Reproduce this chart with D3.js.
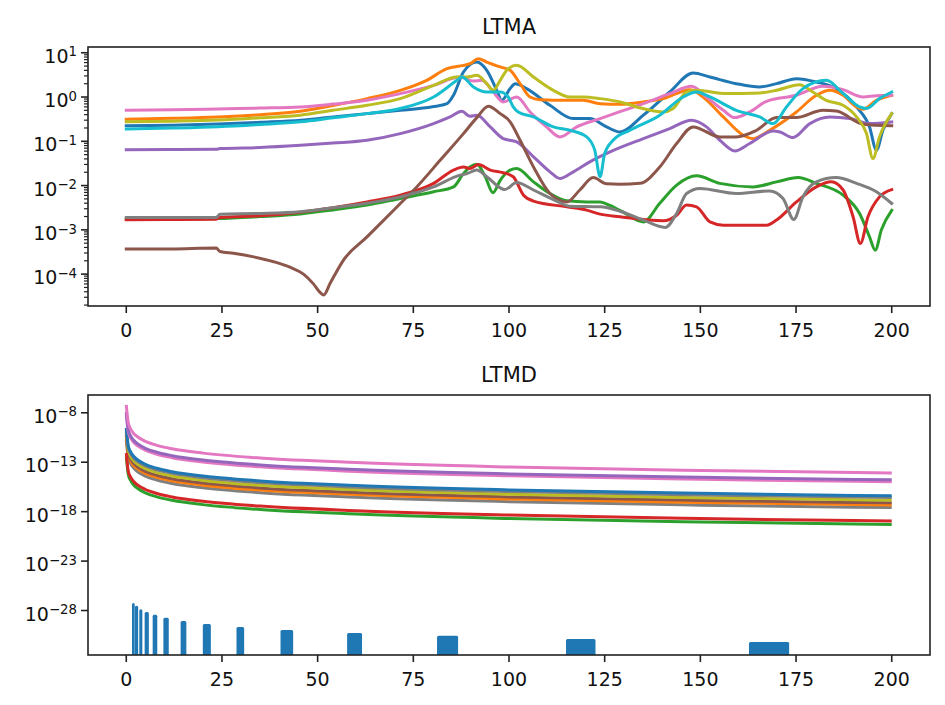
<!DOCTYPE html>
<html>
<head>
<meta charset="utf-8">
<script src="https://d3js.org/d3.v7.min.js"></script>
<style>
  body { margin: 0; background: #fff; }
  svg { font-family: "DejaVu Sans", sans-serif; }
</style>
</head>
<body>
<div class="chart"></div>
<script>
// ---- LTMA data: [x, log10(value)] ----
const ltmaBlue = [[0,-0.65],[12,-0.635],[24,-0.61],[35,-0.57],[45.5,-0.525],[54,-0.45],[62.9,-0.375],[71.6,-0.30],[80,-0.22],[83.8,-0.15],[85.5,0.04],[88.1,0.565],[91.6,0.79],[94.2,0.60],[96.8,0.152],[98.1,-0.074],[100.3,0.19],[101.6,0.30],[104.6,0.19],[110.7,-0.187],[116.8,-0.487],[121.1,-0.487],[125.5,-0.675],[129,-0.79],[135.1,-0.41],[142,0.114],[148.1,0.543],[152.5,0.452],[159.4,0.302],[165.5,0.227],[169.9,0.302],[175.1,0.415],[180.3,0.34],[185.5,0.19],[190.8,-0.224],[194.2,-0.675],[196,-1.2],[197.7,-0.75],[200,-0.375]];
const ltmaOrange = [[0,-0.5],[12,-0.48],[24,-0.45],[35,-0.40],[45.5,-0.32],[54,-0.19],[62.9,-0.036],[71.6,0.15],[78.5,0.377],[83.8,0.64],[88.1,0.715],[89.8,0.753],[92,0.866],[94.2,0.79],[97.7,0.68],[100.3,0.603],[102.9,0.302],[105.5,0.001],[108.1,-0.059],[115.1,-0.074],[119.4,-0.074],[123.8,-0.15],[129,-0.164],[135.1,-0.11],[140.3,-0.036],[147.3,0.167],[150.7,0.001],[156,-0.45],[161.2,-0.863],[163.8,-0.94],[168.1,-0.75],[175.1,-0.337],[180.3,0.04],[183.8,0.152],[187.3,0.04],[190.8,-0.224],[192.5,-0.277],[196,-0.074],[200,0.04]];
const ltmaGreen = [[0,-2.76],[12,-2.755],[24,-2.745],[35,-2.70],[45.5,-2.64],[54,-2.55],[62.9,-2.442],[71.6,-2.29],[80.3,-2.14],[85.5,-2.03],[88.1,-1.73],[89.8,-1.58],[91.6,-1.52],[93.8,-1.8],[95.8,-2.16],[97.7,-1.88],[100.3,-1.65],[102,-1.615],[106.4,-1.916],[110.7,-2.18],[115.1,-2.345],[120.3,-2.37],[123.8,-2.37],[126.4,-2.45],[129,-2.56],[135.1,-2.82],[139.4,-2.4],[143.8,-1.99],[149,-1.78],[155.1,-1.95],[163.8,-2.03],[169.9,-1.916],[175.5,-1.82],[180.3,-1.95],[187.3,-2.217],[191.6,-2.63],[194.2,-3.157],[195.7,-3.46],[197.3,-3.0],[200,-2.56]];
const ltmaRed = [[0,-2.77],[12,-2.765],[23.5,-2.76],[24.5,-2.72],[35,-2.68],[45.5,-2.6],[54,-2.5],[62.9,-2.37],[71.6,-2.217],[80.3,-1.95],[85.5,-1.65],[88.1,-1.58],[89.8,-1.615],[92,-1.525],[95.1,-1.65],[98.5,-1.71],[101.1,-1.8],[103.8,-2.217],[106.4,-2.35],[115.1,-2.48],[120.3,-2.555],[123.8,-2.645],[129,-2.705],[140.3,-2.795],[143.8,-2.67],[146.4,-2.44],[149,-2.48],[152.5,-2.82],[156,-2.895],[167.3,-2.895],[169.9,-2.78],[175.1,-2.37],[180.3,-2.03],[184.2,-1.916],[187.3,-2.1],[189.9,-2.705],[191.8,-3.307],[193.8,-2.705],[196.8,-2.255],[200,-2.09]];
const ltmaPurple = [[0,-1.19],[12,-1.185],[23.5,-1.18],[24.5,-1.165],[35,-1.14],[45.5,-1.09],[54,-1.04],[62.9,-0.976],[71.6,-0.826],[80.3,-0.6],[84.6,-0.45],[87.7,-0.322],[89.8,-0.435],[91.6,-0.412],[95.1,-0.675],[98.5,-0.94],[102,-1.014],[106.4,-1.35],[110.7,-1.69],[113.3,-1.84],[116.8,-1.69],[121.1,-1.465],[126.4,-1.24],[135.1,-0.94],[142,-0.713],[147.7,-0.525],[151.6,-0.675],[155.1,-0.976],[159,-1.217],[162.9,-1.05],[169,-0.766],[170.8,-0.79],[174.2,-0.916],[178.6,-0.6],[183.8,-0.45],[189,-0.487],[194.2,-0.6],[200,-0.562]];
const ltmaBrown = [[0,-3.435],[12,-3.43],[23.5,-3.41],[24.5,-3.49],[28,-3.53],[33.3,-3.61],[38.5,-3.72],[42.9,-3.85],[46.3,-4.0],[48.9,-4.22],[50.5,-4.4],[51.6,-4.47],[53.3,-4.2],[54.2,-4.06],[56.8,-3.68],[62.9,-3.16],[71.6,-2.405],[75.9,-2.03],[82,-1.43],[88.1,-0.826],[91.6,-0.465],[94.6,-0.21],[97.7,-0.375],[100.3,-0.56],[102.9,-0.976],[106.4,-1.58],[110.7,-2.18],[115.1,-2.37],[118.5,-2.10],[122,-1.82],[125.5,-1.96],[129,-1.97],[134.2,-1.95],[139.4,-1.58],[143.8,-1.05],[148.1,-0.675],[155.1,-0.90],[159.4,-0.90],[164.7,-0.75],[169.9,-0.465],[175.1,-0.465],[182,-0.30],[185.5,-0.315],[192.5,-0.615],[200,-0.65]];
const ltmaPink = [[0,-0.30],[12,-0.29],[24,-0.27],[35,-0.25],[45.5,-0.225],[54,-0.16],[62.9,-0.074],[71.6,0.077],[80.3,0.264],[87.2,0.452],[90.7,0.362],[92.9,0.377],[95.9,0.114],[98.5,-0.11],[102,0.001],[105.5,-0.337],[109.8,-0.675],[113.3,-0.9],[117.7,-0.675],[123.8,-0.487],[129,-0.33],[135.1,-0.149],[142,0.077],[147.7,0.242],[151.6,0.001],[156,-0.30],[159,-0.465],[162.9,-0.337],[167.3,-0.096],[175.1,0.04],[182,0.242],[187.3,0.167],[192.5,0.001],[196,0.031],[200,0.04]];
const ltmaGray = [[0,-2.72],[12,-2.72],[23.5,-2.72],[24.5,-2.645],[35,-2.63],[45.5,-2.59],[54,-2.5],[62.9,-2.4],[71.6,-2.255],[80.3,-2.03],[87.2,-1.765],[89,-1.73],[91.6,-1.65],[94.2,-1.8],[98.9,-2.09],[102,-1.93],[106.4,-2.1],[111.6,-2.315],[115.9,-2.465],[123.8,-2.48],[129,-2.58],[135.1,-2.78],[140.8,-2.946],[143.8,-2.63],[146.4,-2.18],[149.9,-2.067],[159.4,-2.18],[168.1,-2.12],[171.6,-2.29],[174.4,-2.765],[176.8,-2.255],[180.3,-1.916],[185.5,-1.82],[190.8,-1.95],[196,-2.14],[200,-2.405]];
const ltmaOlive = [[0,-0.56],[12,-0.545],[24,-0.52],[35,-0.47],[45.5,-0.41],[54,-0.3],[62.9,-0.187],[71.6,-0.036],[80.3,0.264],[86.4,0.452],[89,0.452],[91.6,0.49],[94.2,0.302],[95.9,0.152],[97.7,0.377],[99.4,0.603],[102,0.716],[106.4,0.452],[111.6,0.152],[115.9,0.001],[119.4,0.001],[123.8,-0.036],[129,-0.11],[133.4,-0.224],[140.3,-0.337],[142.9,-0.26],[146.4,0.114],[149,0.152],[156.8,0.077],[165.5,0.092],[169.9,0.152],[175.9,0.28],[179.4,0.114],[182.9,-0.074],[187.3,-0.187],[190.8,-0.45],[193.4,-0.825],[195.1,-1.39],[196.8,-0.9],[200,-0.375]];
const ltmaCyan = [[0,-0.72],[12,-0.70],[24,-0.67],[35,-0.62],[45.5,-0.56],[54,-0.47],[62.9,-0.375],[71.6,-0.26],[80.3,0.001],[86.4,0.377],[87.7,0.452],[90.7,0.227],[94.2,0.114],[97.7,0.114],[99.8,0.001],[101.1,-0.224],[102.4,-0.337],[106.4,-0.45],[111.6,-0.675],[115.9,-0.75],[120.3,-0.9],[122.4,-1.2],[123.8,-1.8],[125,-1.277],[127.2,-0.976],[131.6,-0.75],[139.4,-0.41],[145.5,0.001],[149,0.114],[152.5,0.001],[159.4,-0.30],[165.5,-0.45],[169,-0.6],[172.5,-0.224],[176.8,0.19],[182.9,0.377],[187.3,0.077],[191.6,-0.224],[193.4,-0.26],[196.8,-0.036],[200,0.114]];

// ---- LTMD data: shared x grid, log10(value) per series ----
const ltmdX = [0, 0.5, 1, 2, 3, 5, 8, 12, 20, 35, 60, 100, 150, 200];
const ltmdPinkTop = [-7.2, -8.99, -9.54, -10.11, -10.45, -10.89, -11.29, -11.64, -12.08, -12.57, -13.03, -13.48, -13.83, -14.08];
const ltmdPink2   = [-8.1, -9.89, -10.44, -11.01, -11.35, -11.79, -12.19, -12.54, -12.98, -13.47, -13.93, -14.38, -14.73, -14.98];
const ltmdPurple  = [-7.9, -9.69, -10.24, -10.81, -11.15, -11.59, -11.99, -12.34, -12.78, -13.27, -13.73, -14.18, -14.53, -14.78];
const ltmdBlue    = [-9.52, -11.31, -11.86, -12.43, -12.77, -13.21, -13.61, -13.96, -14.4, -14.89, -15.35, -15.8, -16.15, -16.4];
const ltmdGray    = [-9.69, -11.48, -12.03, -12.6, -12.94, -13.38, -13.78, -14.13, -14.57, -15.06, -15.52, -15.97, -16.32, -16.57];
const ltmdOlive   = [-9.96, -11.75, -12.3, -12.87, -13.21, -13.65, -14.05, -14.4, -14.84, -15.33, -15.79, -16.24, -16.59, -16.84];
const ltmdBrown   = [-10.23, -12.02, -12.57, -13.14, -13.48, -13.92, -14.32, -14.67, -15.11, -15.6, -16.06, -16.51, -16.86, -17.11];
const ltmdOrange  = [-10.44, -12.23, -12.78, -13.35, -13.69, -14.13, -14.53, -14.88, -15.32, -15.81, -16.27, -16.72, -17.07, -17.32];
const ltmdGray2   = [-10.71, -12.5, -13.05, -13.62, -13.96, -14.4, -14.8, -15.15, -15.59, -16.08, -16.54, -16.99, -17.34, -17.59];
const ltmdRed     = [-12.07, -13.86, -14.41, -14.98, -15.32, -15.76, -16.16, -16.51, -16.95, -17.44, -17.9, -18.35, -18.7, -18.95];
const ltmdGreen   = [-12.41, -14.2, -14.75, -15.32, -15.66, -16.1, -16.5, -16.85, -17.29, -17.78, -18.24, -18.69, -19.04, -19.29];
// blue blocks near the bottom: [x start, x end, log10(value)]
const ltmdBlocks = [[1.5,2.2,-27.25],[2.25,3.1,-27.52],[3.4,4.2,-27.86],[4.8,5.9,-28.16],[6.9,8.1,-28.44],[9.7,11.1,-28.74],[14.2,15.7,-29.05],[20.0,22.1,-29.36],[28.8,30.8,-29.66],[40.3,43.6,-29.97],[57.7,61.6,-30.28],[81.2,86.7,-30.55],[114.9,122.6,-30.89],[162.7,173.2,-31.19]];

const xTicks = [0, 25, 50, 75, 100, 125, 150, 175, 200];
const ltmaYTicks = [-4, -3, -2, -1, 0, 1];
const ltmdYTicks = [-28, -23, -18, -13, -8];

const C = {blue:'#1f77b4', orange:'#ff7f0e', green:'#2ca02c', red:'#d62728', purple:'#9467bd',
           brown:'#8c564b', pink:'#e377c2', gray:'#7f7f7f', olive:'#bcbd22', cyan:'#17becf'};

const width = 945, height = 705;
const svg = d3.select('.chart').append('svg').attr('width', width).attr('height', height);

const left = 88, right = 930;
const x = d3.scaleLinear().domain([-10, 210]).range([left, right]);

function panel(top, bottom, domain, title, yTicks, minor) {
  const y = d3.scaleLog().domain(domain).range([bottom, top]);
  const g = svg.append('g');
  const id = 'clip' + title;
  svg.append('clipPath').attr('id', id).append('rect')
    .attr('x', left).attr('y', top).attr('width', right - left).attr('height', bottom - top);
  const plot = g.append('g').attr('clip-path', 'url(#' + id + ')');

  // frame
  g.append('rect').attr('x', left).attr('y', top).attr('width', right - left).attr('height', bottom - top)
    .attr('fill', 'none').attr('stroke', '#222').attr('stroke-width', 1.6);

  // x ticks
  xTicks.forEach(t => {
    g.append('line').attr('x1', x(t)).attr('x2', x(t)).attr('y1', bottom).attr('y2', bottom + 7)
      .attr('stroke', '#222').attr('stroke-width', 1.6);
    g.append('text').attr('x', x(t)).attr('y', bottom + 30.5).attr('text-anchor', 'middle')
      .attr('font-size', 19).attr('fill', '#111').text(t);
  });

  // minor y ticks
  if (minor) {
    for (let k = -6; k <= 1; k++) {
      for (let m = 2; m <= 9; m++) {
        const v = m * Math.pow(10, k);
        if (v < domain[0] || v > domain[1]) continue;
        g.append('line').attr('x1', left - 4).attr('x2', left).attr('y1', y(v)).attr('y2', y(v))
          .attr('stroke', '#222').attr('stroke-width', 1.2);
      }
    }
  }
  // major y ticks with 10^n labels
  yTicks.forEach(e => {
    const py = y(Math.pow(10, e));
    g.append('line').attr('x1', left - 7).attr('x2', left).attr('y1', py).attr('y2', py)
      .attr('stroke', '#222').attr('stroke-width', 1.6);
    const t = g.append('text').attr('x', 77).attr('y', py + 10).attr('text-anchor', 'end')
      .attr('font-size', 19).attr('fill', '#111');
    t.append('tspan').text('10');
    t.append('tspan').attr('dy', -6.3).attr('font-size', 13.3).text(String(e).replace('-', '\u2212'));
  });

  g.append('text').attr('x', (left + right) / 2).attr('y', top - 13.5).attr('text-anchor', 'middle')
    .attr('font-size', 21).attr('fill', '#111').text(title);

  return {y, plot};
}

const lineGen = (y) => d3.line().x(d => x(d[0])).y(d => y(Math.pow(10, d[1]))).curve(d3.curveMonotoneX);

// ---- LTMA ----
const A = panel(47, 306, [Math.pow(10, -4.72), Math.pow(10, 1.13)], 'LTMA', ltmaYTicks, true);
const ltmaSeries = [
  [ltmaBlue, C.blue], [ltmaOrange, C.orange], [ltmaGreen, C.green], [ltmaRed, C.red], [ltmaPurple, C.purple],
  [ltmaBrown, C.brown], [ltmaPink, C.pink], [ltmaGray, C.gray], [ltmaOlive, C.olive], [ltmaCyan, C.cyan]
];
A.plot.selectAll('path.ltma').data(ltmaSeries).enter().append('path')
  .attr('class', 'ltma')
  .attr('d', d => lineGen(A.y)(d[0]))
  .attr('fill', 'none').attr('stroke', d => d[1]).attr('stroke-width', 3)
  .attr('stroke-linejoin', 'round').attr('stroke-linecap', 'square');

// ---- LTMD ----
const B = panel(395, 655, [Math.pow(10, -32.5), Math.pow(10, -6.2)], 'LTMD', ltmdYTicks, false);
B.plot.selectAll('rect.block').data(ltmdBlocks).enter().append('rect')
  .attr('class', 'block')
  .attr('x', d => x(d[0]))
  .attr('width', d => x(d[1]) - x(d[0]))
  .attr('y', d => B.y(Math.pow(10, d[2])))
  .attr('height', d => 665 - B.y(Math.pow(10, d[2])))
  .attr('rx', 1.5)
  .attr('fill', C.blue);

const ltmdSeries = [
  [ltmdGray2, C.gray], [ltmdOrange, C.orange], [ltmdBrown, C.brown], [ltmdOlive, C.olive], [ltmdGray, C.gray],
  [ltmdBlue, C.blue], [ltmdGreen, C.green], [ltmdRed, C.red], [ltmdPink2, C.pink], [ltmdPurple, C.purple],
  [ltmdPinkTop, C.pink]
];
B.plot.selectAll('path.ltmd').data(ltmdSeries).enter().append('path')
  .attr('class', 'ltmd')
  .attr('d', d => lineGen(B.y)(ltmdX.map((v, i) => [v, d[0][i]])))
  .attr('fill', 'none').attr('stroke', d => d[1]).attr('stroke-width', 3)
  .attr('stroke-linejoin', 'round');
</script>
</body>
</html>
